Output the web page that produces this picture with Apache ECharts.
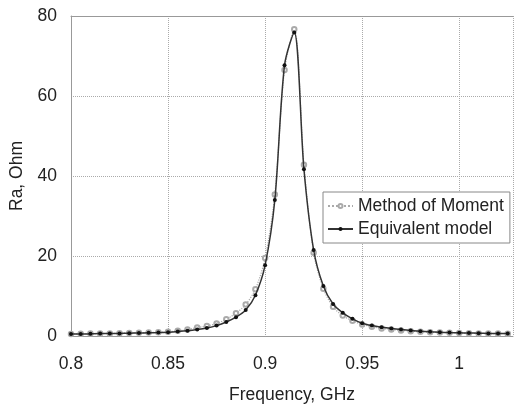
<!DOCTYPE html>
<html>
<head>
<meta charset="utf-8">
<script src="https://cdn.jsdelivr.net/npm/echarts@6/dist/echarts.min.js"></script>
<style>
html,body{margin:0;padding:0;background:#fff;}
#chart{width:516px;height:409px;}
</style>
</head>
<body>
<div id="chart"></div>
<script>
// Frequency (GHz)
const freq = [0.800,0.805,0.810,0.815,0.820,0.825,0.830,0.835,0.840,0.845,
              0.850,0.855,0.860,0.865,0.870,0.875,0.880,0.885,0.890,0.895,
              0.900,0.905,0.910,0.915,0.920,0.925,0.930,0.935,0.940,0.945,
              0.950,0.955,0.960,0.965,0.970,0.975,0.980,0.985,0.990,0.995,
              1.000,1.005,1.010,1.015,1.020,1.025];
// Method of Moment (Ra, Ohm)
const mom = [0.5,0.55,0.6,0.6,0.65,0.7,0.75,0.8,0.9,0.95,
             1.05,1.3,1.6,2.1,2.5,3.1,4.2,5.7,7.9,11.7,
             19.5,35.4,66.5,76.7,42.8,20.8,11.8,7.3,5.1,3.8,
             2.9,2.3,1.9,1.6,1.4,1.2,1.05,0.95,0.85,0.8,
             0.75,0.7,0.65,0.6,0.6,0.55];
// Equivalent model (Ra, Ohm)
const equiv = [0.5,0.5,0.55,0.6,0.6,0.65,0.7,0.75,0.8,0.85,
               0.95,1.1,1.3,1.6,2.0,2.6,3.5,4.7,6.5,10.2,
               17.7,34.0,67.7,75.9,41.7,21.5,12.5,8.0,5.8,4.3,
               3.2,2.6,2.2,1.9,1.6,1.35,1.2,1.05,0.95,0.85,
               0.8,0.75,0.7,0.65,0.6,0.6];
const seriesNames = ['Method of Moment','Equivalent model'];
const xTicks = [0.8,0.85,0.9,0.95,1];
const yTicks = [0,20,40,60,80];

const FONT = '"Liberation Sans", Arial, sans-serif';
const FS = 17.5;
const chart = echarts.init(document.getElementById('chart'), null, {renderer:'canvas'});
const pair = (xs, ys) => xs.map((x,i)=>[x, ys[i]]);
const isTick = v => xTicks.some(t => Math.abs(t - v) < 1e-9);

chart.setOption({
  animation:false,
  backgroundColor:'#fff',
  textStyle:{fontFamily:FONT},
  grid:{left:71, top:16, right:0, bottom:73, containLabel:false},
  legend:{
    orient:'vertical',
    left:323, top:192,
    padding:[5,6,5,4],
    itemGap:5,
    itemWidth:25, itemHeight:5,
    backgroundColor:'#fff',
    borderColor:'#888', borderWidth:1,
    textStyle:{fontFamily:FONT, fontSize:FS, color:'#222'},
    data:seriesNames
  },
  xAxis:[{
    type:'value', min:0.8, max:1.0277, interval:0.05,
    name:'Frequency, GHz', nameLocation:'middle', nameGap:50,
    nameTextStyle:{fontFamily:FONT, fontSize:FS, color:'#222'},
    axisLine:{show:true, lineStyle:{color:'#999', width:1}},
    axisTick:{show:false},
    axisLabel:{margin:19, fontFamily:FONT, fontSize:FS, color:'#222',
      formatter: v => isTick(v) ? String(+v.toFixed(2)) : ''},
    splitLine:{show:true, lineStyle:{color:'#aaa', type:'dotted', width:1}}
  },{
    type:'value', position:'top', min:0.8, max:1.0277,
    axisLine:{show:true, lineStyle:{color:'#999', width:1}},
    axisTick:{show:false}, axisLabel:{show:false}, splitLine:{show:false}
  }],
  yAxis:{
    type:'value', min:yTicks[0], max:yTicks[yTicks.length-1], interval:20,
    name:'Ra, Ohm', nameLocation:'middle', nameGap:44, nameRotate:90,
    nameTextStyle:{fontFamily:FONT, fontSize:FS, color:'#222'},
    axisLine:{show:true, lineStyle:{color:'#999', width:1}},
    axisTick:{show:false},
    axisLabel:{margin:14, fontFamily:FONT, fontSize:FS, color:'#222'},
    splitLine:{show:true, lineStyle:{color:'#aaa', type:'dotted', width:1}}
  },
  series:[{
    name:seriesNames[0], type:'line', xAxisIndex:0,
    data:pair(freq, mom),
    smooth:0.3,
    symbol:'emptyCircle', symbolSize:4.5,
    itemStyle:{color:'#aaa', borderColor:'#aaa', borderWidth:0.9},
    lineStyle:{color:'#aaa', width:1.2, type:'dotted'},
    z:2
  },{
    name:seriesNames[1], type:'line', xAxisIndex:0,
    data:pair(freq, equiv),
    smooth:0.3,
    symbol:'circle', symbolSize:4,
    itemStyle:{color:'#111'},
    lineStyle:{color:'#333', width:1.5, type:'solid'},
    z:3
  }]
});
</script>
</body>
</html>
